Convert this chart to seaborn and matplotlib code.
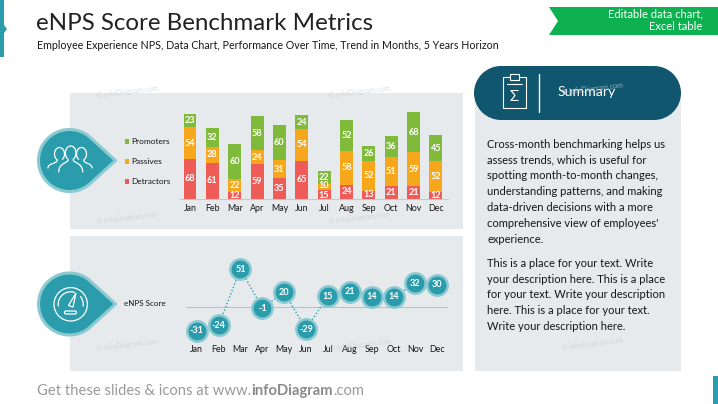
import numpy as np
import pandas as pd
import seaborn as sns
import matplotlib.pyplot as plt
from matplotlib.patches import Circle, FancyBboxPatch, PathPatch, Polygon, Rectangle, Arc
from matplotlib.path import Path

months = ["Jan", "Feb", "Mar", "Apr", "May", "Jun", "Jul", "Aug", "Sep", "Oct", "Nov", "Dec"]
detractors = [68, 61, 12, 59, 35, 65, 15, 24, 13, 21, 21, 12]
passives = [54, 28, 22, 24, 31, 54, 10, 58, 52, 51, 59, 52]
promoters = [23, 32, 60, 58, 60, 24, 22, 52, 26, 36, 68, 45]
enps = [-31, -24, 51, -1, 20, -29, 15, 21, 14, 14, 32, 30]

W, H = 718, 404
TEAL = "#2a9cac"
RING = "#8ccad2"
DARK = "#10566f"
GREY = "#e7eaed"
TXT = "#161616"

sns.set_theme(style="white")
plt.rcParams["font.family"] = ["Lato", "DejaVu Sans"]

fig = plt.figure(figsize=(W / 100, H / 100), dpi=100, facecolor="white")


def box(x0, y0, x1, y1, **kw):
    # pixel box (y from top) -> axes
    return fig.add_axes([x0 / W, 1 - y1 / H, (x1 - x0) / W, (y1 - y0) / H], **kw)


# ---- background layer in pixel coords
bg = fig.add_axes([0, 0, 1, 1], zorder=0)
bg.set_xlim(0, W)
bg.set_ylim(H, 0)
bg.axis("off")

bg.add_patch(Rectangle((70, 93), 393, 136, fc=GREY, ec="none"))
bg.add_patch(Rectangle((70, 236), 393, 135, fc=GREY, ec="none"))
bg.add_patch(Rectangle((475, 92), 206, 279, fc=GREY, ec="none"))
bg.add_patch(Rectangle((501, 66), 153, 54, fc=DARK, ec="none"))
bg.add_patch(Circle((501, 93), 27, fc=DARK, ec="none"))
bg.add_patch(Circle((654, 93), 27, fc=DARK, ec="none"))

# slide decoration
bg.add_patch(Polygon([(0, 0), (4, 0), (4, 25), (7, 29), (4, 33), (4, 57), (0, 57)], fc=TEAL, ec="none"))
bg.add_patch(Rectangle((713, 376), 5, 28, fc=TEAL, ec="none"))
bg.add_patch(Polygon([(549, 7), (718, 7), (718, 35), (549, 35), (558, 21)], fc="#0db14f", ec="none"))


def drop(cx, cy):
    r = 31
    tip = (cx + 46, cy)
    a = np.deg2rad(np.linspace(47.4, 312.6, 80))
    pts = np.column_stack([cx + r * np.cos(a), cy - r * np.sin(a)])
    bg.add_patch(Polygon(np.vstack([pts, tip]), fc=TEAL, ec=RING, lw=2.2, joinstyle="round"))


def stroke(verts, codes):
    bg.add_patch(PathPatch(Path(verts, codes), fc="none", ec="white", lw=0.9, capstyle="round"))


def person(cx, cy, rx, ry, left, right, drop_y):
    # head opening at the neck, shoulders curving down on each side
    bg.add_patch(Arc((cx, cy), 2 * rx, 2 * ry, theta1=115, theta2=65, ec="white", lw=0.9))
    neck = cy + ry * 0.9
    if left:
        stroke([(cx - rx * 0.45, neck), (cx - rx * 0.4, neck + 4), (cx - left, neck + 3), (cx - left, drop_y)], [1, 4, 4, 4])
    if right:
        stroke([(cx + rx * 0.45, neck), (cx + rx * 0.4, neck + 4), (cx + right, neck + 3), (cx + right, drop_y)], [1, 4, 4, 4])


drop(69.5, 160.5)
person(59.5, 154, 5, 6.5, 11.5, 0, 168)
person(81.5, 154, 5, 6.5, 0, 10.5, 168)
person(70.7, 153, 5.3, 7, 12, 12, 172)

drop(69.5, 304)
bg.add_patch(Circle((70.7, 304.3), 16.7, fc="none", ec="white", lw=0.9))
bg.add_patch(Arc((70.7, 304.3), 25, 25, theta1=170, theta2=290, ec="white", lw=0.9))
bg.add_patch(Arc((70.7, 304.3), 25, 25, theta1=320, theta2=10, ec="white", lw=0.9))
bg.add_patch(Polygon([(68.5, 305.5), (76, 293), (73, 307)], fc="none", ec="white", lw=0.9))
bg.add_patch(FancyBboxPatch((64.5, 311), 12, 3, boxstyle="round,pad=0,rounding_size=1.5", fc="none", ec="white", lw=0.9))

# summary icon
bg.add_patch(Rectangle((503, 77), 23, 31, fc="none", ec="white", lw=0.8))
bg.add_patch(Rectangle((510, 74), 9, 6, fc=DARK, ec="white", lw=0.8))
bg.plot([507, 522], [84, 84], color="white", lw=0.8)
bg.plot([538.5, 538.5], [74, 112], color="white", lw=1.0)
bg.text(514.5, 97, "\u03a3", color="white", fontsize=11, ha="center", va="center")

# ---- stacked bars
ax1 = box(180, 100, 448, 198.7, zorder=2)
ax1.patch.set_alpha(0)
df = pd.DataFrame({"month": months, "det": detractors, "pas": passives, "pro": promoters})
bottom = np.zeros(12)
for col, colr in [("det", "#ef5b56"), ("pas", "#f7a71c"), ("pro", "#7fba3a")]:
    sns.barplot(data=df, x="month", y=col, color=colr, saturation=1, width=0.58, bottom=bottom,
                edgecolor="none", linewidth=0, ax=ax1)
    bottom = bottom + df[col].values
labels = [ax1.bar_label(cont, label_type="center", color="white", fontsize=6.6, fontweight="bold")
          for cont in ax1.containers]
# the two short Jul segments sit very close, push their labels apart
labels[0][6].set_position((0, -1.0))
labels[1][6].set_position((0, 0.9))
ax1.set_xlim(-0.447, 11.54)
ax1.set_ylim(0, 169)
ax1.set_xlabel("")
ax1.set_ylabel("")
ax1.set_yticks([])
ax1.tick_params(axis="x", length=0, pad=4, labelsize=6.4, labelcolor=TXT)
sns.despine(ax=ax1, left=True)
ax1.spines["bottom"].set_color("#c3cbd2")
ax1.spines["bottom"].set_linewidth(0.8)

for y, name, colr in [(141, "Promoters", "#7fba3a"), (161, "Passives", "#f7a71c"), (181, "Detractors", "#ef5b56")]:
    bg.add_patch(Rectangle((124.5, y - 2.5), 4.5, 5, fc=colr, ec="none"))
    bg.text(131.5, y, name, fontsize=6.0, color=TXT, ha="left", va="center")

# ---- eNPS line
ax2 = box(186, 260, 448, 342, zorder=2)
ax2.patch.set_alpha(0)
line_df = pd.DataFrame({"month": np.arange(12), "score": enps})
ax2.axhline(0, color="#b9c2ca", lw=0.8, zorder=1)
sns.lineplot(data=line_df, x="month", y="score", color=TEAL, lw=1.0, linestyle=(0, (1, 1.5)), ax=ax2, zorder=2)
sns.scatterplot(data=line_df, x="month", y="score", s=215, color=TEAL, edgecolor=RING, linewidth=1.8, ax=ax2, zorder=3, clip_on=False)
for i, v in enumerate(enps):
    ax2.text(i, v, str(v), color="white", fontsize=6.6, fontweight="bold", ha="center", va="center", zorder=4)
ax2.set_xlim((186 - 196.7) / 21.87, (448 - 196.7) / 21.87)
ax2.set_ylim((307.3 - 342) / 0.75, (307.3 - 260) / 0.75)
ax2.set_xlabel("")
ax2.set_ylabel("")
ax2.set_yticks([])
ax2.set_xticks(range(12), months)
ax2.tick_params(axis="x", length=0, pad=2, labelsize=6.4, labelcolor=TXT)
sns.despine(ax=ax2, left=True, bottom=True)
bg.text(124, 303.5, "eNPS Score", fontsize=5.8, color=TXT, ha="left", va="center")

# ---- texts
bg.text(36, 23, "eNPS Score Benchmark Metrics", fontsize=17.4, color="#222222", ha="left", va="center")
bg.text(37, 45.5, "Employee Experience NPS, Data Chart, Performance Over Time, Trend in Months, 5 Years Horizon",
        fontsize=7.67, color=TXT, ha="left", va="center")
bg.text(702.5, 14, "Editable data chart,", fontsize=8, color="white", ha="right", va="center")
bg.text(702.5, 27, "Excel table", fontsize=8, color="white", ha="right", va="center")
bg.text(558, 92.5, "Summary", fontsize=10.2, color="white", ha="left", va="center")

para1 = ["Cross-month benchmarking helps us", "assess trends, which is useful for", "spotting month-to-month changes,",
         "understanding patterns, and making", "data-driven decisions with a more",
         "comprehensive view of employees'", "experience."]
para2 = ["This is a place for your text. Write", "your description here. This is a place",
         "for your text. Write your description", "here. This is a place for your text.",
         "Write your description here."]
for i, t in enumerate(para1):
    bg.text(487, 144 + i * 15.85, t, fontsize=8.0, color=TXT, ha="left", va="center")
for i, t in enumerate(para2):
    bg.text(487, 263.3 + i * 15.85, t, fontsize=8.0, color=TXT, ha="left", va="center")

foot = bg.text(37, 391, "Get these slides & icons at www.", fontsize=10.6, color="#9a9a9a", ha="left", va="center")
fig.canvas.draw()
ext = foot.get_window_extent()
foot2 = bg.text(ext.x1, 391, "infoDiagram", fontsize=10.6, color="#8a8a8a", fontweight="bold", ha="left", va="center")
ext = foot2.get_window_extent()
bg.text(ext.x1, 391, ".com", fontsize=10.6, color="#9a9a9a", ha="left", va="center")

# watermarks on top
top = fig.add_axes([0, 0, 1, 1], zorder=5)
top.set_xlim(0, W)
top.set_ylim(H, 0)
top.axis("off")
for x, y in [(127, 92), (359, 92), (127, 218), (359, 218), (127, 345), (360, 345), (592, 89), (592, 344)]:
    top.text(x, y, "\u00a9 infoDiagram.com", fontsize=5.2, color="#c9ced2", alpha=0.7, rotation=7, ha="center", va="center")

fig.savefig("out.png", dpi=100)
